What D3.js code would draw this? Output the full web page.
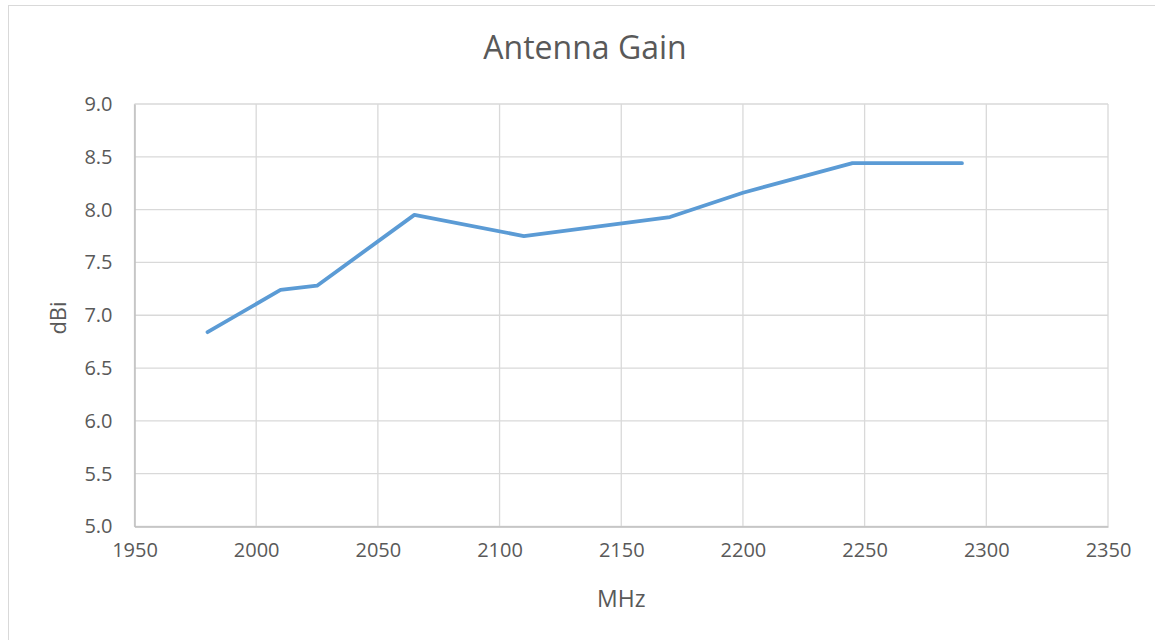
<!DOCTYPE html>
<html>
<head>
<meta charset="utf-8">
<script src="https://cdn.jsdelivr.net/npm/d3@7"></script>
<style>
  body { margin: 0; background: #fff; }
  svg { display: block; font-family: "Open Sans", sans-serif; }
  .grid line { stroke: #d9d9d9; stroke-width: 1.3; }
  .tick text { fill: #595959; }
</style>
</head>
<body>
<div id="chart"></div>
<script>
// Antenna gain readings
const freqs = [1980, 2010, 2025, 2065, 2110, 2170, 2200, 2245, 2290];
const gains = [6.84, 7.24, 7.28, 7.95, 7.75, 7.93, 8.16, 8.44, 8.44];
const xTicks = [1950, 2000, 2050, 2100, 2150, 2200, 2250, 2300, 2350];
const yTicks = [5.0, 5.5, 6.0, 6.5, 7.0, 7.5, 8.0, 8.5, 9.0];

const width = 1155, height = 640;
const plot = { left: 134.5, right: 1108, top: 104, bottom: 526.5 };

const svg = d3.select('#chart')
  .append('svg')
  .attr('width', width)
  .attr('height', height);

// chart area border
svg.append('rect')
  .attr('x', 8.5).attr('y', 5.5)
  .attr('width', 1160).attr('height', 660)
  .attr('fill', '#fff')
  .attr('stroke', '#d9d9d9');

const x = d3.scaleLinear().domain([1950, 2350]).range([plot.left, plot.right]);
const y = d3.scaleLinear().domain([5, 9]).range([plot.bottom, plot.top]);

// gridlines
const grid = svg.append('g').attr('class', 'grid');
grid.selectAll('.h').data(yTicks).enter().append('line')
  .attr('x1', plot.left).attr('x2', plot.right)
  .attr('y1', d => y(d)).attr('y2', d => y(d));
grid.selectAll('.v').data(xTicks).enter().append('line')
  .attr('y1', plot.top).attr('y2', plot.bottom)
  .attr('x1', d => x(d)).attr('x2', d => x(d));

// axes
const xAxis = svg.append('g')
  .attr('transform', `translate(0,${plot.bottom})`)
  .call(d3.axisBottom(x).tickValues(xTicks).tickSize(0).tickPadding(16).tickFormat(d3.format('d')));
xAxis.attr('font-family', '"Open Sans", sans-serif').attr('font-size', 20);
xAxis.select('.domain').attr('stroke', '#bfbfbf').attr('stroke-width', 1.5);

const yAxis = svg.append('g')
  .attr('transform', `translate(${plot.left},0)`)
  .call(d3.axisLeft(y).tickValues(yTicks).tickSize(0).tickPadding(22).tickFormat(d3.format('.1f')));
yAxis.attr('font-family', '"Open Sans", sans-serif').attr('font-size', 20);
yAxis.select('.domain').attr('stroke', '#bfbfbf').attr('stroke-width', 1.5);

// series line
const line = d3.line()
  .x((d, i) => x(freqs[i]))
  .y(d => y(d));

svg.append('path')
  .datum(gains)
  .attr('fill', 'none')
  .attr('stroke', '#5b9bd5')
  .attr('stroke-width', 3.8)
  .attr('stroke-linecap', 'round')
  .attr('stroke-linejoin', 'round')
  .attr('d', line);

// titles
svg.append('text')
  .attr('x', 585).attr('y', 59)
  .attr('text-anchor', 'middle')
  .attr('font-size', 32)
  .attr('fill', '#595959')
  .text('Antenna Gain');

svg.append('text')
  .attr('x', (plot.left + plot.right) / 2).attr('y', 607)
  .attr('text-anchor', 'middle')
  .attr('font-size', 23)
  .attr('fill', '#595959')
  .text('MHz');

svg.append('text')
  .attr('transform', 'translate(66,318) rotate(-90)')
  .attr('text-anchor', 'middle')
  .attr('font-size', 22)
  .attr('fill', '#595959')
  .text('dBi');
</script>
</body>
</html>
